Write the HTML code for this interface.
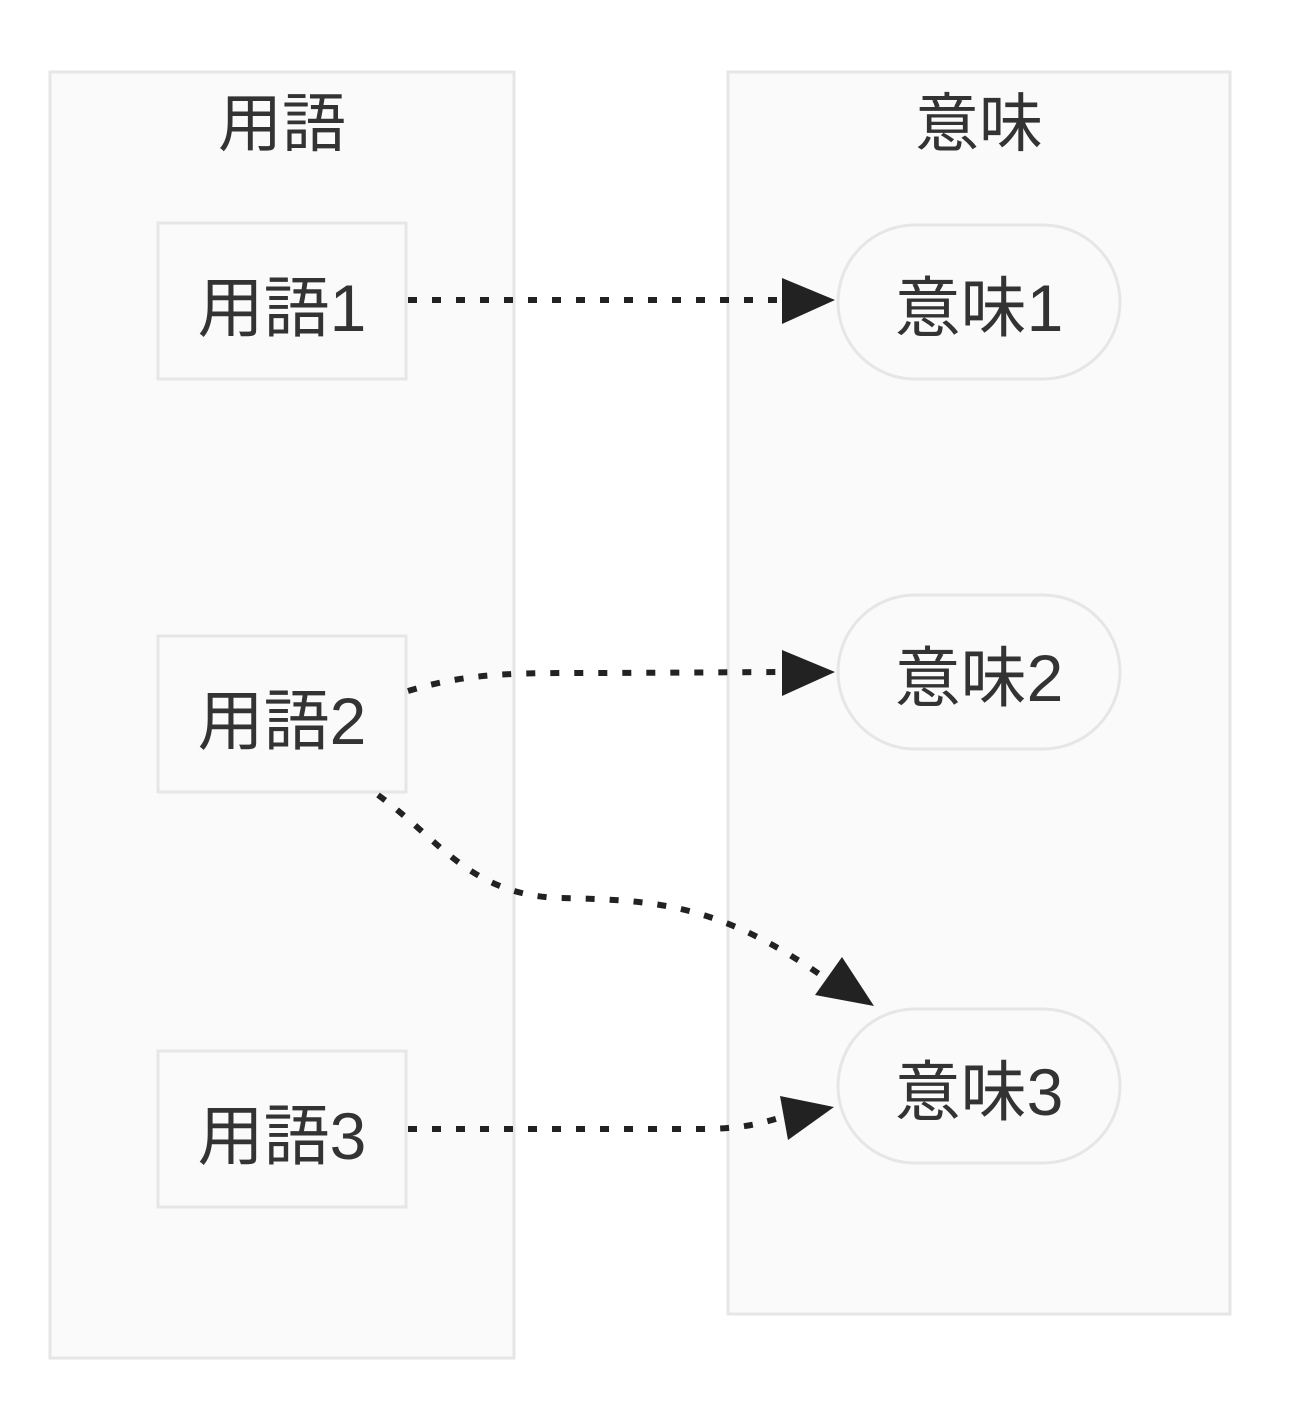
<!DOCTYPE html>
<html><head><meta charset="utf-8"><style>
html,body{margin:0;padding:0;background:#fff;}
svg{display:block;}
text{font-family:"Liberation Sans","Noto Sans CJK JP",sans-serif;fill:#333;}
</style></head><body>
<svg width="1300" height="1412" viewBox="0 0 1300 1412" xmlns="http://www.w3.org/2000/svg">
<rect x="50" y="72" width="464" height="1286" fill="#fafafa" stroke="#e6e6e6" stroke-width="3"/>
<rect x="728" y="72" width="502" height="1242" fill="#fafafa" stroke="#e6e6e6" stroke-width="3"/>
<text x="282" y="146" font-size="64" text-anchor="middle">用語</text>
<text x="979" y="146" font-size="64" text-anchor="middle">意味</text>

<rect x="158" y="223" width="248" height="156" fill="#fafafa" stroke="#e6e6e6" stroke-width="3"/>
<rect x="158" y="636" width="248" height="156" fill="#fafafa" stroke="#e6e6e6" stroke-width="3"/>
<rect x="158" y="1051" width="248" height="156" fill="#fafafa" stroke="#e6e6e6" stroke-width="3"/>
<text x="282" y="331" font-size="66" text-anchor="middle">用語1</text>
<text x="282" y="744" font-size="66" text-anchor="middle">用語2</text>
<text x="282" y="1159" font-size="66" text-anchor="middle">用語3</text>

<rect x="838" y="225" width="282" height="154" rx="77" fill="#fafafa" stroke="#e6e6e6" stroke-width="3"/>
<rect x="838" y="595" width="282" height="154" rx="77" fill="#fafafa" stroke="#e6e6e6" stroke-width="3"/>
<rect x="838" y="1009" width="282" height="154" rx="77" fill="#fafafa" stroke="#e6e6e6" stroke-width="3"/>
<text x="979" y="331" font-size="66" text-anchor="middle">意味1</text>
<text x="979" y="701" font-size="66" text-anchor="middle">意味2</text>
<text x="979" y="1115" font-size="66" text-anchor="middle">意味3</text>

<g fill="none" stroke="#222" stroke-width="6" stroke-dasharray="9 15">
<path d="M408,300 L785,300"/>
<path d="M408,691 C470,672 520,673 600,673 L785,672"/>
<path d="M378,795 C440,840 470,895 560,898 C660,900 720,905 825,978"/>
<path d="M408,1129 L700,1129 C740,1129 760,1124 785,1116"/>
</g>
<g fill="#222">
<polygon points="782,278 782,324 835,300"/>
<polygon points="782,650 782,696 835,672"/>
<polygon points="815,995 842,957 874,1006"/>
<polygon points="780,1096 788,1140 834,1107"/>
</g>
</svg>
</body></html>
